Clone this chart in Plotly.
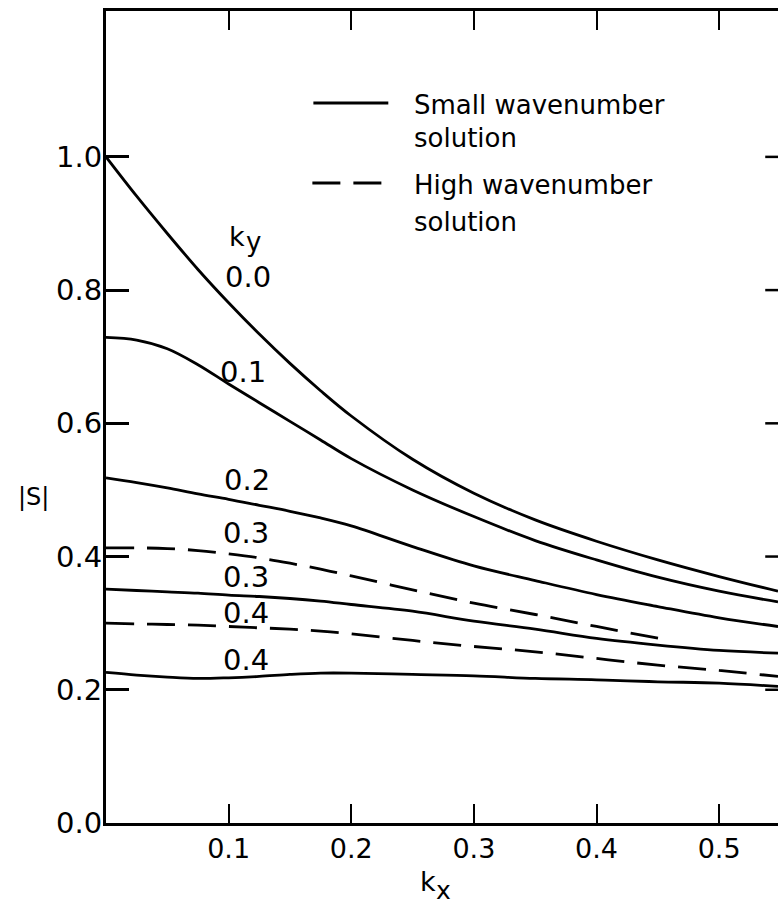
import plotly.graph_objects as go

# wavenumber k_x along the horizontal axis
kx = [0, 0.025, 0.05, 0.075, 0.1, 0.125, 0.15, 0.175, 0.2, 0.25, 0.3, 0.35, 0.4, 0.45, 0.5, 0.548]
kx_high03 = [0, 0.025, 0.05, 0.075, 0.1, 0.125, 0.15, 0.175, 0.2, 0.25, 0.3, 0.35, 0.4, 0.46]

# |S| for the small wavenumber solution (solid)
s_small_00 = [1.000, 0.941, 0.885, 0.831, 0.781, 0.734, 0.690, 0.649, 0.611, 0.546, 0.495, 0.455, 0.423, 0.395, 0.370, 0.348]
s_small_01 = [0.729, 0.725, 0.712, 0.688, 0.659, 0.631, 0.603, 0.575, 0.547, 0.500, 0.460, 0.424, 0.395, 0.369, 0.348, 0.332]
s_small_02 = [0.518, 0.511, 0.503, 0.494, 0.486, 0.477, 0.468, 0.458, 0.446, 0.415, 0.386, 0.364, 0.343, 0.325, 0.308, 0.295]
s_small_03 = [0.351, 0.349, 0.347, 0.345, 0.342, 0.340, 0.337, 0.333, 0.328, 0.318, 0.303, 0.291, 0.277, 0.267, 0.259, 0.255]
s_small_04 = [0.226, 0.222, 0.219, 0.217, 0.218, 0.220, 0.223, 0.225, 0.225, 0.223, 0.221, 0.217, 0.215, 0.212, 0.210, 0.205]

# |S| for the high wavenumber solution (dashed)
s_high_03 = [0.413, 0.413, 0.412, 0.409, 0.404, 0.398, 0.390, 0.381, 0.371, 0.350, 0.330, 0.313, 0.295, 0.274]
s_high_04 = [0.300, 0.299, 0.298, 0.297, 0.295, 0.293, 0.291, 0.288, 0.284, 0.274, 0.265, 0.257, 0.247, 0.237, 0.229, 0.220]

# curve labels (k_y value, label position)
ky_labels = ["0.0", "0.1", "0.2", "0.3", "0.3", "0.4", "0.4"]
ky_label_x = [0.116, 0.112, 0.115, 0.114, 0.114, 0.114, 0.114]
ky_label_y = [0.820, 0.677, 0.515, 0.435, 0.369, 0.315, 0.245]

xtick_vals = [0.1, 0.2, 0.3, 0.4, 0.5]
xtick_text = ["0.1", "0.2", "0.3", "0.4", "0.5"]
ytick_vals = [0.0, 0.2, 0.4, 0.6, 0.8, 1.0]
ytick_text = ["0.0", "0.2", "0.4", "0.6", "0.8", "1.0"]
right_tick_vals = [0.2, 0.4, 0.6, 0.8, 1.0]

# key text, one line per entry row
key_lines = ["Small wavenumber", "solution", "High wavenumber", "solution"]
key_line_y = [0.8842, 0.8436, 0.7857, 0.7401]

FONT = "DejaVu Sans"
INK = "black"
LW = 2.8
DASH = "28px,13px"

fig = go.Figure()

solid_sets = [s_small_00, s_small_01, s_small_02, s_small_03, s_small_04]
for ys in solid_sets:
    fig.add_trace(go.Scatter(x=kx, y=ys, mode="lines", line=dict(color=INK, width=LW, shape="spline"),
                             showlegend=False, hoverinfo="skip"))

fig.add_trace(go.Scatter(x=kx_high03, y=s_high_03, mode="lines",
                         line=dict(color=INK, width=LW, dash=DASH, shape="spline"),
                         showlegend=False, hoverinfo="skip"))
fig.add_trace(go.Scatter(x=kx, y=s_high_04, mode="lines",
                         line=dict(color=INK, width=LW, dash=DASH, shape="spline"),
                         showlegend=False, hoverinfo="skip"))


def note(text, x, y, size, xref="x", yref="y", xanchor="center"):
    return dict(x=x, y=y, xref=xref, yref=yref, text=text, showarrow=False,
                font=dict(family=FONT, size=size, color=INK), xanchor=xanchor, yanchor="middle")


annotations = [note(t, ax_, ay_, 29) for t, ax_, ay_ in zip(ky_labels, ky_label_x, ky_label_y)]

# k_y heading above the curve labels
annotations.append(note("k", 0.107, 0.880, 27))
annotations.append(note("y", 0.120, 0.872, 26))

# axis titles
annotations.append(note("k", 0.4796, -0.072, 27, xref="paper", yref="paper"))
annotations.append(note("x", 0.5019, -0.083, 25, xref="paper", yref="paper"))
annotations.append(note("|S|", -0.108, 0.4015, 24, xref="paper", yref="paper"))

# key
for t, ly in zip(key_lines, key_line_y):
    annotations.append(note(t, 0.4558, ly, 26, xref="paper", yref="paper", xanchor="left"))

shapes = [
    dict(type="line", xref="paper", yref="paper", x0=0.3086, x1=0.4201, y0=0.8867, y1=0.8867,
         line=dict(color=INK, width=LW)),
    dict(type="line", xref="paper", yref="paper", x0=0.3071, x1=0.4126, y0=0.7882, y1=0.7882,
         line=dict(color=INK, width=LW, dash=DASH)),
]
# short inward ticks along the right edge of the frame (no right frame line)
for v in right_tick_vals:
    shapes.append(dict(type="line", xref="paper", yref="y", x0=0.981, x1=1.0, y0=v, y1=v,
                       line=dict(color=INK, width=2.5)))

fig.update_layout(
    width=778, height=905,
    margin=dict(l=106, r=0, t=11, b=82),
    paper_bgcolor="white", plot_bgcolor="white",
    showlegend=False,
    annotations=annotations,
    shapes=shapes,
    xaxis=dict(range=[0, 0.548], showgrid=False, zeroline=False,
               showline=True, linecolor=INK, linewidth=3, mirror="ticks",
               ticks="inside", ticklen=19, tickwidth=2.2, tickcolor=INK,
               tickvals=xtick_vals, ticktext=xtick_text, ticklabelstandoff=0,
               tickfont=dict(family=FONT, size=27, color=INK)),
    yaxis=dict(range=[0, 1.219], showgrid=False, zeroline=False,
               showline=True, linecolor=INK, linewidth=3, mirror=False,
               ticks="inside", ticklen=23, tickwidth=2.5, tickcolor=INK,
               tickvals=ytick_vals, ticktext=ytick_text, ticklabelstandoff=-5,
               tickfont=dict(family=FONT, size=29, color=INK)),
)

fig.write_html("out.html")
